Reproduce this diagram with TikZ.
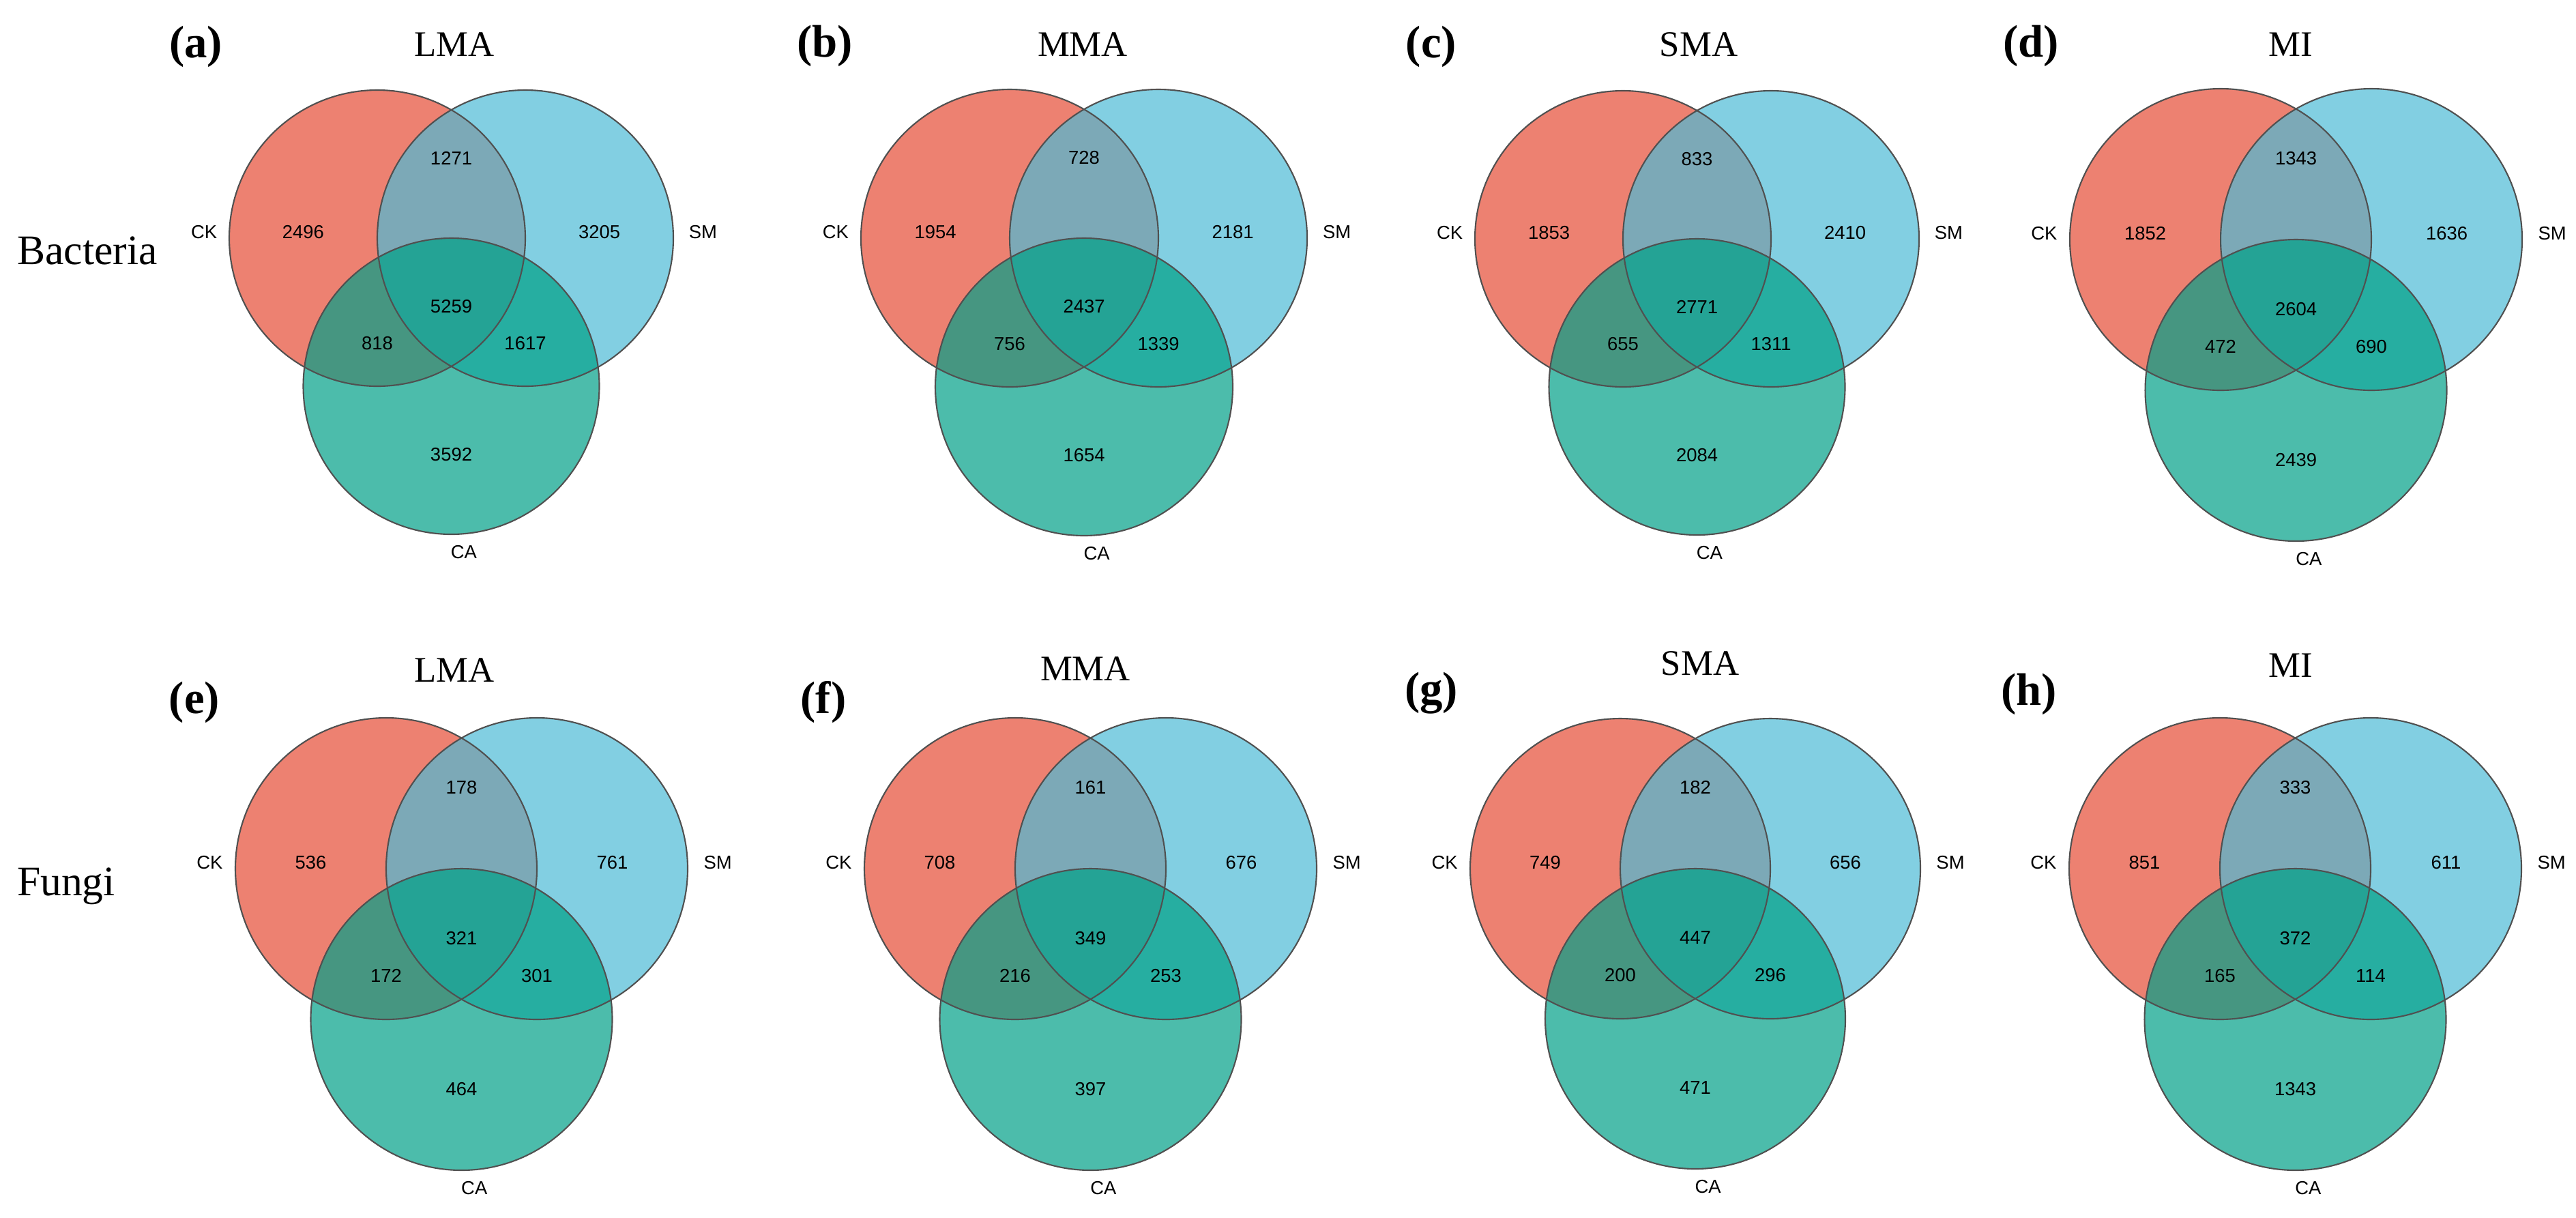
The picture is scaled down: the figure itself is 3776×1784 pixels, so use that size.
\documentclass[tikz,border=0pt]{standalone}
\usepackage{fontspec}
\setmainfont{Liberation Serif}
\setsansfont{Liberation Sans}
\usepackage{tikz}

\definecolor{ckred}{HTML}{E64B35}
\definecolor{smblue}{HTML}{4DBBD5}
\definecolor{cagreen}{HTML}{00A087}
\definecolor{rim}{HTML}{505050}

\tikzset{
    venn/.style={fill opacity=0.7},
    rimline/.style={draw=rim, line width=0.6pt},
    num/.style={font=\sffamily\fontsize{7.8}{9}\selectfont},
    setname/.style={font=\sffamily\fontsize{7.8}{9}\selectfont},
    tag/.style={anchor=base, font=\bfseries\fontsize{19}{22}\selectfont},
    treat/.style={anchor=base, font=\fontsize{15}{18}\selectfont},
    group/.style={anchor=base, font=\fontsize{17.5}{21}\selectfont},
}

\begin{document}
\begin{tikzpicture}[x=0.01cm, y=-0.01cm]
            \useasboundingbox (0,0) rectangle (3776,1784);
            \foreach \id/\cx/\cy/\rad/\nck/\nks/\nsm/\nall/\nkc/\nsc/\nca in {
                a/553/349/217/2496/1271/3205/5259/818/1617/3592,
                b/1480/349/218/1954/728/2181/2437/756/1339/1654,
                c/2379/350/217/1853/833/2410/2771/655/1311/2084,
                d/3255/351/221/1852/1343/1636/2604/472/690/2439,
                e/566/1273/221/536/178/761/321/172/301/464,
                f/1488/1273/221/708/161/676/349/216/253/397,
                g/2375/1273/220/749/182/656/447/200/296/471,
                h/3254/1273/221/851/333/611/372/165/114/1343}
            {
                \fill [venn, ckred] (\cx,\cy) circle (\rad);
                \fill [venn, smblue] ({\cx+\rad},\cy) circle (\rad);
                \fill [venn, cagreen] ({\cx+0.5*\rad},{\cy+\rad}) circle (\rad);
                \draw [rimline] (\cx,\cy) circle (\rad);
                \draw [rimline] ({\cx+\rad},\cy) circle (\rad);
                \draw [rimline] ({\cx+0.5*\rad},{\cy+\rad}) circle (\rad);
                \node [num] (ck-only-\id) at ({\cx-0.5*\rad},{\cy-0.04*\rad}) {\nck};
                \node [num] (ck-sm-\id) at ({\cx+0.5*\rad},{\cy-0.54*\rad}) {\nks};
                \node [num] (sm-only-\id) at ({\cx+1.5*\rad},{\cy-0.04*\rad}) {\nsm};
                \node [num] (all-\id) at ({\cx+0.5*\rad},{\cy+0.46*\rad}) {\nall};
                \node [num] (ck-ca-\id) at (\cx,{\cy+0.71*\rad}) {\nkc};
                \node [num] (sm-ca-\id) at ({\cx+\rad},{\cy+0.71*\rad}) {\nsc};
                \node [num] (ca-only-\id) at ({\cx+0.5*\rad},{\cy+1.46*\rad}) {\nca};
                \node [setname] (ck-\id) at ({\cx-1.17*\rad},{\cy-0.04*\rad}) {CK};
                \node [setname] (sm-\id) at ({\cx+2.2*\rad},{\cy-0.04*\rad}) {SM};
                \node [setname] (ca-\id) at ({\cx+0.585*\rad},{\cy+2.12*\rad}) {CA};
            }
            \foreach \id/\lx/\ly in {a/287/84, b/1209/83, c/2098/84, d/2977/83, e/285/1045, f/1207/1045, g/2098/1031, h/2974/1033}
                \node [tag] (tag-\id) at (\lx,\ly) {(\id)};
            \foreach \id/\tx/\ty/\txt in {a/666/82/LMA, b/1587/82/MMA, c/2490/82/SMA, d/3358/82/MI, e/666/999/LMA, f/1591/997/MMA, g/2492/989/SMA, h/3358/992/MI}
                \node [treat] (title-\id) at (\tx,\ty) {\txt};
            \node [group] (bacteria) at (128,387) {Bacteria};
            \node [group] (fungi) at (97,1312) {Fungi};
        \end{tikzpicture}
\end{document}
